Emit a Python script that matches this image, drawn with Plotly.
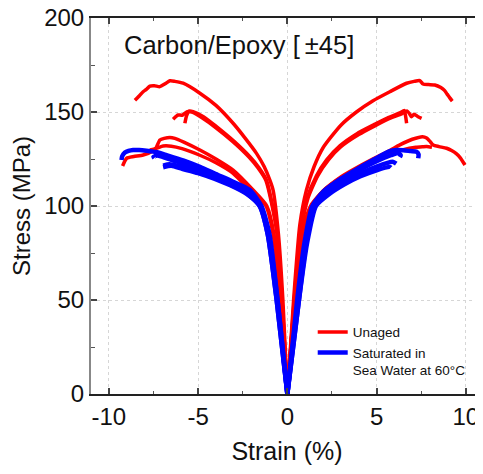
import plotly.graph_objects as go

# ---------------- data: (strain %, stress MPa) ----------------
# Unaged specimens (red) - right branch (positive strain) and left branch (negative strain)
u1_right_strain = [0, 0.35, 0.7, 1.07, 1.5, 2.0, 3.0, 3.87, 4.8, 5.74, 6.68, 7.1, 7.42, 7.6, 7.9, 8.26, 8.6, 8.8, 8.95, 9.1, 9.24]
u1_right_stress = [0, 50, 90, 108.5, 121, 131, 143, 150, 156, 160.8, 165.3, 166.3, 166.7, 164.9, 164.6, 164.4, 163, 161.5, 159.5, 157.5, 155.8]
u1_left_strain = [0, -0.25, -0.5, -0.8, -0.98, -1.3, -1.73, -2.4, -3.04, -4.0, -4.9, -5.84, -6.3, -6.58, -6.85, -7.14, -7.45, -7.7, -7.9, -8.08, -8.3, -8.54]
u1_left_stress = [0, 50, 85, 108.5, 113.8, 121, 128, 136.5, 144, 153.5, 160, 165.3, 166.3, 166.6, 165, 163.5, 164, 163.8, 162, 160.8, 158.5, 156.2]

u2_right_strain = [0, 0.38, 0.75, 1.1, 1.63, 2.2, 2.94, 3.9, 4.81, 5.6, 6.3, 6.55, 6.62, 6.68]
u2_right_stress = [0, 50, 88, 104, 116, 124.5, 132, 138.5, 143, 146.8, 149.5, 150.8, 148, 144]
u2_left_strain = [0, -0.3, -0.6, -1.17, -1.6, -2.1, -3.0, -3.97, -4.7, -5.28, -5.5, -5.65, -5.74]
u2_left_stress = [0, 50, 88, 113.8, 120.5, 126.2, 134.5, 142.2, 147.5, 150.2, 150.5, 148, 144]

u3_right_strain = [0, 0.4, 0.8, 1.15, 1.7, 2.3, 3.0, 4.0, 4.9, 5.8, 6.4, 6.7, 6.85, 6.95, 7.1, 7.3, 7.52]
u3_right_stress = [0, 50, 88, 104, 116, 124.5, 131.5, 138, 142.6, 146.8, 149, 150.6, 149, 147.5, 148.8, 147.6, 146.6]
u3_left_strain = [0, -0.3, -0.62, -1.2, -1.65, -2.15, -3.05, -4.0, -4.8, -5.3, -5.61, -5.9, -6.12, -6.25, -6.4]
u3_left_stress = [0, 50, 88, 113.5, 120.3, 126, 134.2, 141.6, 147, 149.8, 150.2, 148.3, 148.4, 147.5, 146.1]

u4_right_strain = [0, 0.5, 0.9, 1.35, 2.0, 3.0, 4.0, 5.0, 5.74, 6.3, 7.0, 7.57, 7.8, 7.98, 8.17, 8.5, 8.92, 9.2, 9.48, 9.7, 9.95]
u4_right_stress = [0, 60, 88, 100, 108, 115.5, 121, 126, 129.5, 132.5, 135.5, 136.9, 136.2, 134.5, 132.4, 131.6, 130.7, 129.5, 127.7, 125.5, 121.8]
u4_left_strain = [0, -0.4, -0.75, -1.15, -1.92, -3.04, -4.0, -4.9, -5.8, -6.3, -6.58, -6.9, -7.14, -7.35, -7.52, -8.08, -8.6, -9.0, -9.23]
u4_left_stress = [0, 50, 85, 100, 108.5, 119.1, 125, 129.8, 134, 136, 136.5, 136, 135.1, 131, 129.4, 127.1, 126.3, 125.4, 121.3]

u5_right_strain = [0, 0.5, 0.9, 1.3, 2.0, 3.0, 4.0, 5.0, 5.74, 6.5, 7.2, 7.6, 7.8, 8.1]
u5_right_stress = [0, 60, 88, 100, 108, 115, 120, 124.5, 127.8, 130, 131.2, 131.5, 131.6, 131.2]
u5_left_strain = [0, -0.4, -0.8, -1.2, -2.0, -3.04, -4.0, -4.9, -5.9, -6.5, -6.96, -7.3, -7.7]
u5_left_stress = [0, 50, 85, 100, 107.5, 117.4, 123, 127, 130.5, 131.8, 131.9, 130.8, 129.8]

# Saturated in sea water at 60 °C (blue)
s1_right_strain = [0, 0.55, 0.95, 1.4, 2.0, 3.0, 3.87, 4.8, 5.74, 6.1, 6.5, 6.9, 7.24, 7.35, 7.33]
s1_right_stress = [0, 50, 80, 100, 107.5, 114.5, 119.5, 124.5, 129.2, 129.8, 129.6, 129.2, 128.9, 127.5, 125.4]
s1_left_strain = [0, -0.55, -1.0, -1.45, -2.1, -3.04, -4.0, -4.9, -5.8, -6.77, -7.3, -7.89, -8.3, -8.64, -8.9, -9.1, -9.25, -9.29]
s1_left_stress = [0, 50, 85, 100, 108.5, 112.9, 117, 120.9, 124.2, 127.1, 128.6, 129.4, 129.8, 129.8, 129.3, 128.4, 126.5, 124.5]

s2_right_strain = [0, 0.6, 1.0, 1.45, 2.1, 3.0, 4.0, 5.0, 5.8, 6.2, 6.35, 6.3]
s2_right_stress = [0, 50, 80, 100, 107, 113.5, 119, 123.8, 127, 128.2, 127, 126]
s2_left_strain = [0, -0.55, -1.05, -1.5, -2.2, -3.1, -4.0, -5.0, -6.0, -6.8, -7.3, -7.5, -7.45]
s2_left_stress = [0, 50, 85, 100, 107.5, 112, 116, 119.8, 123, 125.5, 126.8, 126.2, 125.5]

s3_right_strain = [0, 0.65, 1.05, 1.5, 2.2, 3.1, 4.0, 5.0, 5.9, 6.1]
s3_right_stress = [0, 50, 80, 100, 106.5, 112.5, 117, 121, 123.5, 122.5]
s3_left_strain = [0, -0.6, -1.1, -1.55, -2.3, -3.2, -4.1, -5.0, -6.0, -6.6, -6.96]
s3_left_stress = [0, 50, 85, 100, 107, 111.5, 115.2, 118.2, 121, 122.2, 121.5]

s4_right_strain = [0, 0.65, 1.1, 1.6, 2.3, 3.2, 4.1, 5.0, 5.74, 5.8]
s4_right_stress = [0, 50, 80, 100, 106, 111.5, 115.8, 119, 120.8, 120.4]
s4_left_strain = [0, -0.6, -1.1, -1.55, -2.3, -3.2, -4.1, -5.0, -5.9, -6.5, -6.96]
s4_left_stress = [0, 50, 85, 100, 106.5, 111, 114.5, 117.5, 119.8, 121.4, 120.6]

unaged_curves = [
    (u1_left_strain, u1_left_stress), (u1_right_strain, u1_right_stress),
    (u2_left_strain, u2_left_stress), (u2_right_strain, u2_right_stress),
    (u3_left_strain, u3_left_stress), (u3_right_strain, u3_right_stress),
    (u4_left_strain, u4_left_stress), (u4_right_strain, u4_right_stress),
    (u5_left_strain, u5_left_stress), (u5_right_strain, u5_right_stress),
]
saturated_curves = [
    (s1_left_strain, s1_left_stress), (s1_right_strain, s1_right_stress),
    (s2_left_strain, s2_left_stress), (s2_right_strain, s2_right_stress),
    (s3_left_strain, s3_left_stress), (s3_right_strain, s3_right_stress),
    (s4_left_strain, s4_left_stress), (s4_right_strain, s4_right_stress),
]

series_names = ["Unaged", "Saturated in<br>Sea Water at 60°C"]
series_colors = ["#FF0000", "#0000FF"]
x_ticks = [-10, -5, 0, 5, 10]
y_ticks = [0, 50, 100, 150, 200]
title_text = "Carbon/Epoxy [\u2009±45]"

FONT = "Arial, 'Liberation Sans', Helvetica, sans-serif"

fig = go.Figure()
for group, name, color, width in [
    (unaged_curves, series_names[0], series_colors[0], 3.5),
    (saturated_curves, series_names[1], series_colors[1], 4.5),
]:
    for i, (xs, ys) in enumerate(group):
        fig.add_trace(go.Scatter(
            x=xs, y=ys, mode="lines", name=name,
            line=dict(color=color, width=width, shape="spline", smoothing=0.6),
            showlegend=(i == 0), legendgroup=name,
        ))

axis_common = dict(
    showline=True, mirror="allticks", ticks="inside", ticklen=6, tickwidth=1.5,
    tickcolor="#444", showgrid=True, gridcolor="#d6d6d6", griddash="dot", gridwidth=1,
    zeroline=False, automargin=False, ticklabeloverflow="allow",
    tickfont=dict(family=FONT, size=24, color="#111"),
)

# The page body adds an 8 px offset, so the figure is 8 px smaller with 8 px less left/top margin.
fig.update_layout(
    width=475, height=466,
    margin=dict(l=83, r=0, t=10, b=80),
    paper_bgcolor="white", plot_bgcolor="white",
    font=dict(family=FONT, color="#111"),
    xaxis=dict(
        range=[-11, 10.96], tickvals=x_ticks, ticktext=[str(v) for v in x_ticks],
        linecolor="#222", linewidth=1.5,
        minor=dict(dtick=2.5, tick0=0, ticks="inside", ticklen=3.5, tickwidth=1.2, tickcolor="#555", showgrid=False),
        title=dict(text="Strain (%)", font=dict(family=FONT, size=25, color="#111"), standoff=14),
        **axis_common,
    ),
    yaxis=dict(
        range=[0, 200], tickvals=y_ticks, ticktext=[str(v) for v in y_ticks],
        linecolor="#888", linewidth=2,
        minor=dict(dtick=25, tick0=0, ticks="inside", ticklen=3.5, tickwidth=1.2, tickcolor="#555", showgrid=False),
        title=dict(text="Stress (MPa)", font=dict(family=FONT, size=24, color="#111"), standoff=8),
        **axis_common,
    ),
    legend=dict(
        x=0.5656, y=0.2056, xanchor="left", yanchor="top",
        bgcolor="rgba(0,0,0,0)", borderwidth=0, valign="top", tracegroupgap=0,
        font=dict(family=FONT, size=13.5, color="#111"),
    ),
    showlegend=True,
    annotations=[dict(
        text=title_text, xref="paper", yref="paper", x=0.078, y=0.928,
        xanchor="left", yanchor="middle", showarrow=False,
        font=dict(family=FONT, size=25.5, color="#111"),
    )],
)

fig.write_html("out.html")
